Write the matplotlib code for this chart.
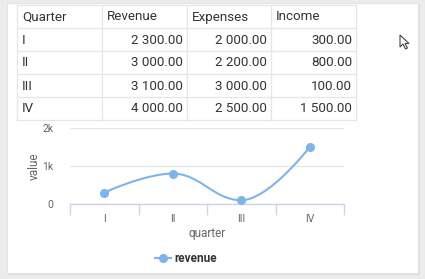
import numpy as np
import matplotlib
matplotlib.use("Agg")
from matplotlib import pyplot as plt
from matplotlib.patches import Rectangle, Polygon

plt.rcParams["font.family"] = ["Roboto", "DejaVu Sans"]

# table data
columns = ["Quarter", "Revenue", "Expenses", "Income"]
quarters = ["I", "II", "III", "IV"]
revenue = ["2 300.00", "3 000.00", "3 100.00", "4 000.00"]
expenses = ["2 000.00", "2 200.00", "3 000.00", "2 500.00"]
income = ["300.00", "800.00", "100.00", "1 500.00"]

# chart data (series named "revenue")
chart_values = [300, 800, 100, 1500]
series_name = "revenue"

W, H = 425, 279
fig = plt.figure(figsize=(W / 100, H / 100), dpi=100)
fig.patch.set_facecolor("#ececec")

bg = fig.add_axes([0, 0, 1, 1])
bg.set_xlim(0, W)
bg.set_ylim(H, 0)
bg.axis("off")

# card
bg.add_patch(Rectangle((8, 4), 412, 271, facecolor="#dcdcdc", edgecolor="none"))
bg.add_patch(Rectangle((7, 3), 411, 270, facecolor="white", edgecolor="#e4e4e4", lw=0.8))

# table
col_x = [17, 102, 187, 271, 356]
row_y = [5, 28, 51, 74, 97, 120]
for x in col_x:
    bg.plot([x, x], [row_y[0], row_y[-1]], color="#e6e6e6", lw=0.9)
for y in row_y:
    bg.plot([col_x[0], col_x[-1]], [y, y], color="#e6e6e6", lw=0.9)

for j, name in enumerate(columns):
    bg.text(col_x[j] + 5, (row_y[0] + row_y[1]) / 2 + 0.5, name, fontsize=9.6,
            color="#333333", va="center", ha="left")
rows = list(zip(quarters, revenue, expenses, income))
for i, row in enumerate(rows):
    yc = (row_y[i + 1] + row_y[i + 2]) / 2 + 0.5
    for j, val in enumerate(row):
        if j == 0:
            bg.text(col_x[0] + 5, yc, val, fontsize=9.6, color="#333333", va="center", ha="left")
        else:
            bg.text(col_x[j + 1] - 4, yc, val, fontsize=9.6, color="#333333", va="center", ha="right")

# mouse cursor
cur = np.array([[0, 0], [0, 12], [3, 9], [5.5, 14], [7.5, 13], [5, 8.5], [9, 8.5]]) + [400, 35]
bg.add_patch(Polygon(cur, closed=True, facecolor="white", edgecolor="#444444", lw=0.8))


# highcharts-style spline
def spline(xs, ys, smoothing=1.5):
    n = len(xs)
    lc = [(xs[i], ys[i]) for i in range(n)]
    rc = [(xs[i], ys[i]) for i in range(n)]
    d = smoothing + 1
    for i in range(1, n - 1):
        px, py = xs[i], ys[i]
        lx, ly = xs[i - 1], ys[i - 1]
        nx, ny = xs[i + 1], ys[i + 1]
        lcx = (smoothing * px + lx) / d
        lcy = (smoothing * py + ly) / d
        rcx = (smoothing * px + nx) / d
        rcy = (smoothing * py + ny) / d
        corr = ((rcy - lcy) * (rcx - px)) / (rcx - lcx) + py - rcy
        lcy += corr
        rcy += corr
        if lcy > ly and lcy > py:
            lcy = max(ly, py)
            rcy = 2 * py - lcy
        elif lcy < ly and lcy < py:
            lcy = min(ly, py)
            rcy = 2 * py - lcy
        if rcy > ny and rcy > py:
            rcy = max(ny, py)
            lcy = 2 * py - rcy
        elif rcy < ny and rcy < py:
            rcy = min(ny, py)
            lcy = 2 * py - rcy
        lc[i] = (lcx, lcy)
        rc[i] = (rcx, rcy)
    t = np.linspace(0, 1, 40)[:, None]
    pts = []
    for i in range(1, n):
        p0 = np.array([xs[i - 1], ys[i - 1]])
        p1 = np.array(rc[i - 1])
        p2 = np.array(lc[i])
        p3 = np.array([xs[i], ys[i]])
        seg = (1 - t) ** 3 * p0 + 3 * (1 - t) ** 2 * t * p1 + 3 * (1 - t) * t ** 2 * p2 + t ** 3 * p3
        pts.append(seg)
    pts = np.vstack(pts)
    return pts[:, 0], pts[:, 1]


# chart
ax = fig.add_axes([70 / W, (H - 204) / H, 274 / W, 76 / H])
ax.set_facecolor("none")
xs = np.arange(len(quarters), dtype=float)
sx, sy = spline(xs, chart_values)
line_color = "#7cb5ec"
ax.plot(sx, sy, color=line_color, lw=1.5, clip_on=False, zorder=3)
ax.plot(xs, chart_values, "o", color=line_color, ms=5.5, clip_on=False, zorder=4)
ax.plot([], [], "-o", color=line_color, lw=1.5, ms=5.5, label=series_name)

ax.set_xlim(-0.5, len(quarters) - 0.5)
ax.set_ylim(0, 2000)
ax.set_yticks([0, 1000, 2000])
ax.set_yticklabels(["0", "1k", "2k"])
ax.grid(axis="y", color="#e6e6e6", lw=1)
ax.set_axisbelow(True)
for s in ["top", "right", "left"]:
    ax.spines[s].set_visible(False)
ax.spines["bottom"].set_color("#ccd6eb")
ax.spines["bottom"].set_linewidth(1)
ax.tick_params(axis="y", length=0, labelsize=7.5, labelcolor="#666666", pad=12)

ax.set_xticks(xs)
ax.set_xticklabels(quarters)
ax.tick_params(axis="x", length=0, labelsize=7.5, labelcolor="#666666", pad=7)
ax.set_xticks(np.arange(-0.5, len(quarters), 1.0), minor=True)
ax.tick_params(axis="x", which="minor", length=8, color="#ccd6eb", width=1)

ax.set_xlabel("quarter", fontsize=8.5, color="#666666", labelpad=2)
ax.set_ylabel("value", fontsize=8.5, color="#666666", labelpad=1)

fig.legend(loc="center", bbox_to_anchor=(186 / W, 1 - 259 / H), frameon=False,
           handlelength=1.3, handletextpad=0.3, prop={"size": 8.5, "weight": "bold"},
           labelcolor="#333333")

fig.savefig("out.png", dpi=100)
